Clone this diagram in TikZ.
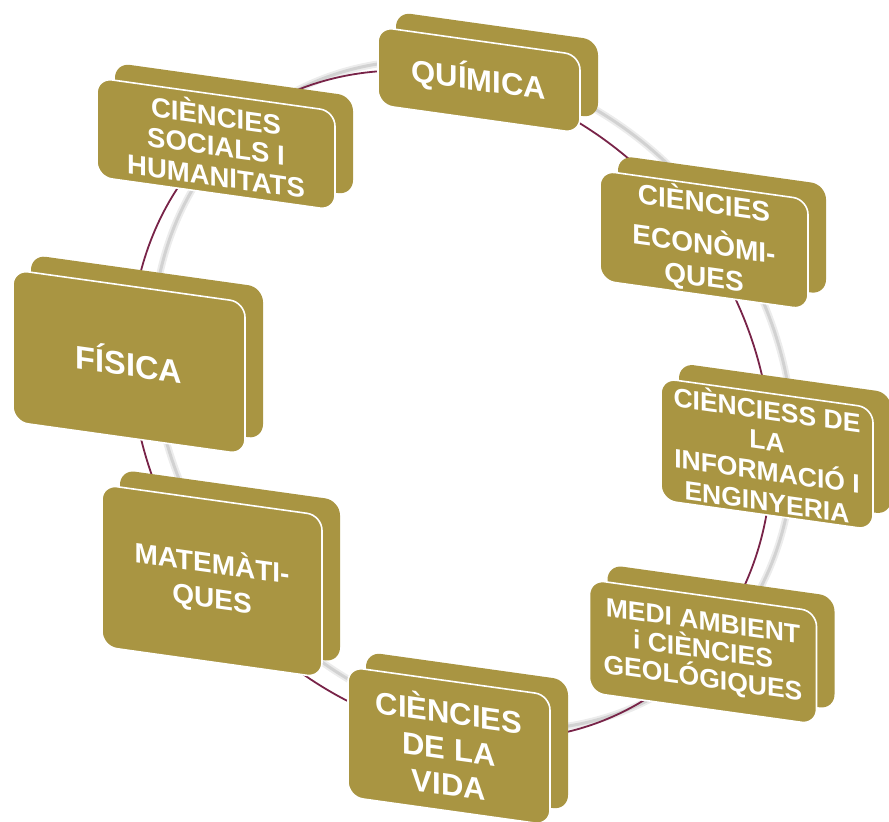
\documentclass[tikz,border=0pt]{standalone}
\usepackage{fontspec}
\setmainfont{Liberation Sans}
\definecolor{gold}{RGB}{169,149,66}
\definecolor{plum}{RGB}{120,35,72}
\begin{document}
\begin{tikzpicture}[x=1pt,y=1pt]
\tikzstyle{slab}= [rectangle,rounded corners=15pt,fill=gold,yslant=-0.14,inner sep=2pt]
\tikzstyle{subj}= [slab,draw=white,line width=1.6pt,text=white,align=center]
\tikzstyle{ring}= [rotate around={37.3:(451,-405)}]
\useasboundingbox (0,0) rectangle (889,-822);

% ring with its grey shadow
\begin{scope}[shift={(22,10)}]
\draw[ring,gray!15,line width=7pt] (451,-405) ellipse [x radius=300,y radius=353];
\draw[ring,gray!35,line width=3pt] (451,-405) ellipse [x radius=300,y radius=353];
\end{scope}
\draw[ring,plum,line width=1.8pt] (451,-405) ellipse [x radius=300,y radius=353];

% back slabs
\path
	(497,-65)  node[slab,minimum width=202,minimum height=78]  (chemb) {}
	(234,-129) node[slab,minimum width=238,minimum height=99]  (socb)  {}
	(722,-225) node[slab,minimum width=208,minimum height=110] (econb) {}
	(147,-347) node[slab,minimum width=232,minimum height=152] (physb) {}
	(785,-439) node[slab,minimum width=212,minimum height=122] (infob) {}
	(230,-566) node[slab,minimum width=220,minimum height=162] (mathb) {}
	(721,-637) node[slab,minimum width=227,minimum height=113] (envb)  {}
	(467,-731) node[slab,minimum width=202,minimum height=130] (lifeb) {}
;
% front slabs
\path
	(479,-80)  node[subj,minimum width=202,minimum height=78,
		font=\fontsize{31}{35}\selectfont\bfseries] (chem) {QUÍMICA}
	(216,-144) node[subj,minimum width=238,minimum height=99,
		font=\fontsize{27.5}{30}\selectfont\bfseries] (soc) {CIÈNCIES\\SOCIALS I\\HUMANITATS}
	(704,-240) node[subj,minimum width=208,minimum height=110,
		font=\fontsize{28}{33}\selectfont\bfseries] (econ) {CIÈNCIES\\[8pt]ECONÒMI-\\QUES}
	(129,-362) node[subj,minimum width=232,minimum height=152,
		font=\fontsize{32.5}{36}\selectfont\bfseries] (phys) {FÍSICA}
	(767,-454) node[subj,minimum width=212,minimum height=122,
		font=\fontsize{26.5}{30.5}\selectfont\bfseries] (info) {CIÈNCIESS DE\\LA\\INFORMACIÓ I\\ENGINYERIA}
	(212,-581) node[subj,minimum width=220,minimum height=162,
		font=\fontsize{28}{35}\selectfont\bfseries] (math) {MATEMÀTI-\\QUES}
	(703,-652) node[subj,minimum width=227,minimum height=113,
		font=\fontsize{26.5}{28.5}\selectfont\bfseries] (env) {MEDI AMBIENT\\i CIÈNCIES\\GEOLÓGIQUES}
	(449,-746) node[subj,minimum width=202,minimum height=130,
		font=\fontsize{31}{36}\selectfont\bfseries] (life) {CIÈNCIES\\DE LA\\VIDA}
;
\end{tikzpicture}
\end{document}
